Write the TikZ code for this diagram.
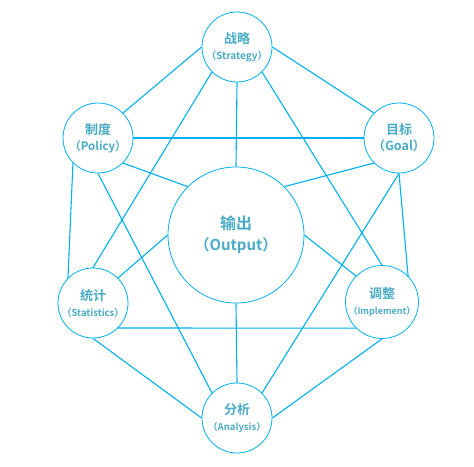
\documentclass[tikz,border=0pt]{standalone}
\usepackage{fontspec}
\setmainfont{Noto Sans CJK SC}[BoldFont={Noto Sans CJK SC Bold}]
\definecolor{lineblue}{RGB}{0,176,240}
\definecolor{textblue}{RGB}{75,172,198}

\begin{document}
\begin{tikzpicture}[x=1pt, y=-1pt,
  every node/.style={circle, draw=lineblue, line width=0.8pt, fill=white,
    text=textblue, font=\bfseries, align=center, inner sep=0pt},
  small/.style={minimum size=70pt, font=\bfseries\fontsize{13}{15}\selectfont},
  big/.style={minimum size=136pt, font=\bfseries\fontsize{16}{21}\selectfont}]
  \useasboundingbox (0,0) rectangle (474,466);
  \node[small] (strat) at (237,47)  {战略\\[1pt]{\fontsize{10}{10}\selectfont （Strategy）}};
  \node[small] (pol)   at (98,138)  {制度\\[1pt]{\fontsize{11.5}{11}\selectfont （Policy）}};
  \node[small] (goal)  at (399,138) {目标\\[1pt]{\fontsize{12.5}{12}\selectfont （Goal）}};
  \node[big]   (out)   at (236,235) {输出\\{\fontsize{15}{15}\selectfont （Output）}};
  \node[small] (stat)  at (93,303)  {统计\\[1pt]{\fontsize{9.5}{9}\selectfont （Statistics）}};
  \node[small] (impl)  at (382,302) {调整\\[1pt]{\fontsize{9}{9}\selectfont （Implement）}};
  \node[small] (ana)   at (237,418) {分析\\[1pt]{\fontsize{9.5}{9}\selectfont （Analysis）}};
  \path[draw=lineblue, line width=1.1pt]
  (strat.west) edge (pol.45)
  (strat.east) edge (goal.135)
  (strat.south) edge (out.north)
  (strat.225) edge (stat.north)
  (strat.-45) edge (impl.north)
  (pol.east) edge (goal.west)
  (pol.-45) edge (out.135)
  (pol.225) edge (stat.135)
  (pol.south) edge (ana.135)
  (goal.225) edge (out.45)
  (goal.south) edge (impl.45)
  edge (ana.45)
  (stat.45) edge (out.west)
  (stat.-45) edge (impl.225)
  (stat.south) edge (ana.west)
  (impl.135) edge (out.east)
  (impl.south) edge (ana.east)
  (ana.north) edge (out.south);
\end{tikzpicture}
\end{document}
